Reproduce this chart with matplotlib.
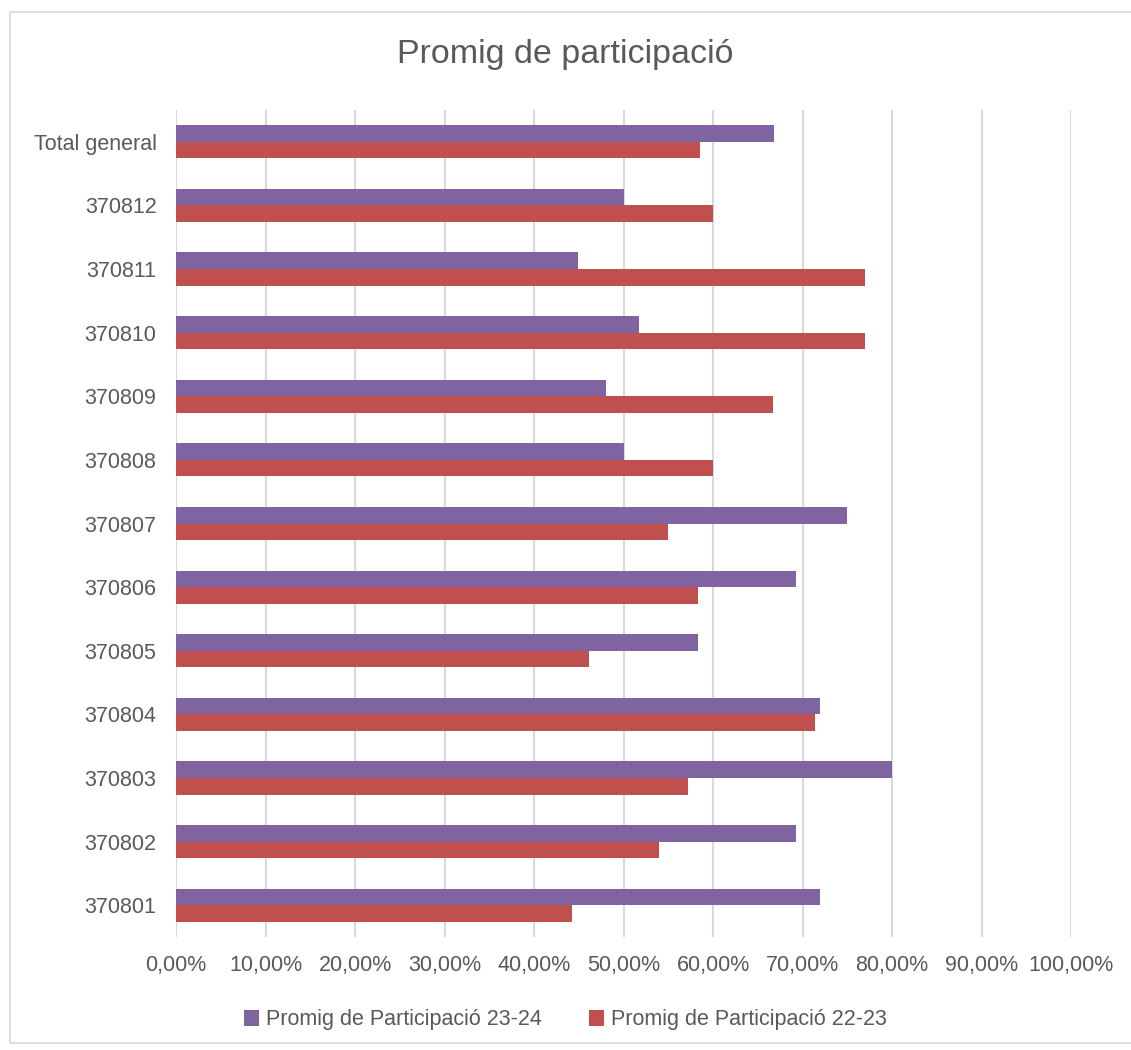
import numpy as np
import matplotlib.pyplot as plt
from matplotlib.ticker import FuncFormatter
from matplotlib.patches import Rectangle

categories = ["370801", "370802", "370803", "370804", "370805", "370806", "370807",
              "370808", "370809", "370810", "370811", "370812", "Total general"]
vals_2324 = [72.0, 69.3, 80.0, 72.0, 58.3, 69.3, 75.0, 50.0, 48.0, 51.7, 44.9, 50.0, 66.8]
vals_2223 = [44.2, 54.0, 57.2, 71.4, 46.1, 58.3, 55.0, 60.0, 66.7, 77.0, 77.0, 60.0, 58.6]
labels = ["Promig de Participació 23-24", "Promig de Participació 22-23"]
colors = ["#8064A2", "#C0504D"]

plt.rcParams['font.family'] = ['Liberation Sans', 'DejaVu Sans']
txt = "#595959"

fig = plt.figure(figsize=(11.31, 10.5), dpi=100)
ax = fig.add_axes([176/1131, 1-937/1050, (1071-176)/1131, (937-110)/1050])

y = np.arange(len(categories))
h = 0.26
ax.barh(y + h/2, vals_2324, height=h, color=colors[0], label=labels[0], zorder=3)
ax.barh(y - h/2, vals_2223, height=h, color=colors[1], label=labels[1], zorder=3)

ax.set_xlim(0, 100)
ax.set_ylim(-0.5, len(categories) - 0.5)
ax.set_xticks(np.arange(0, 101, 10))
ax.xaxis.set_major_formatter(FuncFormatter(lambda v, p: ("%.2f%%" % v).replace(".", ",")))
ax.set_yticks(y)
ax.set_yticklabels(categories)
ax.tick_params(axis='both', colors=txt, labelsize=15.5, length=0)
ax.tick_params(axis='x', pad=13)
ax.tick_params(axis='y', pad=14)
ax.grid(axis='x', color="#D9D9D9", linewidth=1.5, zorder=0)
for s in ax.spines.values():
    s.set_visible(False)

fig.text(0.5, 1-55/1050, "Promig de participació", ha='center', va='center', fontsize=24.5, color=txt)
fig.legend(loc='center', bbox_to_anchor=(0.5, 1-1020/1050), ncol=2, frameon=False,
           fontsize=15.5, labelcolor=txt, handlelength=0.7, handleheight=0.7,
           handletextpad=0.3, columnspacing=2.2)

fig.patches.append(Rectangle((10/1131, 7/1050), 1.0, 1 - 19/1050, transform=fig.transFigure,
                             fill=False, edgecolor="#D9D9D9", linewidth=1.2))

fig.savefig("out.png", dpi=100)
